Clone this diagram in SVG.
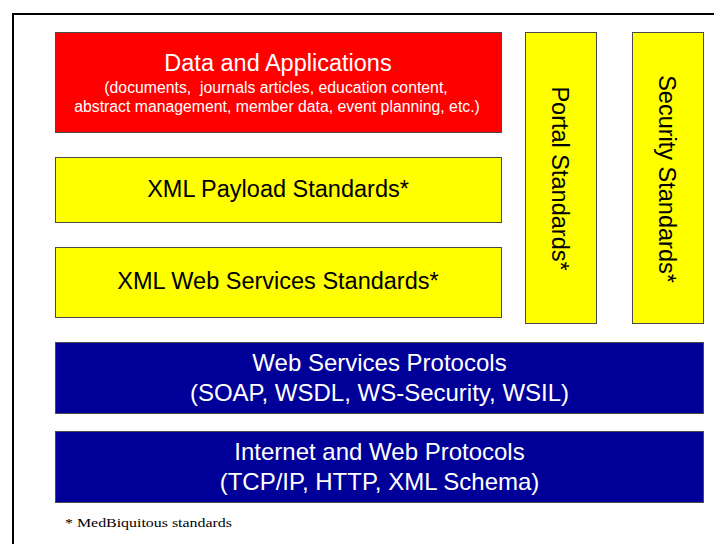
<svg xmlns="http://www.w3.org/2000/svg" width="714" height="544" viewBox="0 0 714 544">
  <style>
    .box { stroke: #4a4a4a; stroke-width: 1; }
    .red { fill: #FF0000; }
    .yellow { fill: #FFFF00; }
    .blue { fill: #000099; }
    .t { font-family: "Liberation Sans", Arial, sans-serif; text-anchor: middle; }
    .big { font-size: 23.5px; }
    .big2 { font-size: 24px; }
    .small { font-size: 15.8px; }
    .white { fill: #FFFFFF; }
    .black { fill: #000000; }
    .note { font-family: "Liberation Serif", "Times New Roman", serif; font-size: 13px; fill: #000000; }
  </style>
  <rect x="0" y="0" width="714" height="544" fill="#FFFFFF"/>
  <path d="M13,545 V14 H715" fill="none" stroke="#000000" stroke-width="2"/>

  <g id="data-applications">
    <rect class="box red" x="55.5" y="32.5" width="446" height="100"/>
    <text class="t big white" x="278" y="71">Data and Applications</text>
    <text class="t small white" x="276" y="93" xml:space="preserve">(documents,  journals articles, education content,</text>
    <text class="t small white" x="277" y="112">abstract management, member data, event planning, etc.)</text>
  </g>

  <g id="xml-payload">
    <rect class="box yellow" x="55.5" y="157.5" width="446" height="65"/>
    <text class="t big black" x="278" y="197">XML Payload Standards*</text>
  </g>

  <g id="xml-web-services">
    <rect class="box yellow" x="55.5" y="247.5" width="446" height="70"/>
    <text class="t big black" x="278" y="289">XML Web Services Standards*</text>
  </g>

  <g id="portal-standards">
    <rect class="box yellow" x="525.5" y="32.5" width="71" height="291"/>
    <text class="t big black" transform="translate(552,178.5) rotate(90)" x="0" y="0">Portal Standards*</text>
  </g>

  <g id="security-standards">
    <rect class="box yellow" x="632.5" y="32.5" width="71" height="291"/>
    <text class="t big black" transform="translate(658.5,179) rotate(90)" x="0" y="0">Security Standards*</text>
  </g>

  <g id="web-services-protocols">
    <rect class="box blue" x="55.5" y="342.5" width="648" height="71"/>
    <text class="t big2 white" x="379.5" y="371">Web Services Protocols</text>
    <text class="t big2 white" x="379.5" y="401">(SOAP, WSDL, WS-Security, WSIL)</text>
  </g>

  <g id="internet-web-protocols">
    <rect class="box blue" x="55.5" y="431.5" width="648" height="71"/>
    <text class="t big2 white" x="379.5" y="460">Internet and Web Protocols</text>
    <text class="t big2 white" x="379.5" y="490">(TCP/IP, HTTP, XML Schema)</text>
  </g>

  <g id="connectors"></g>

  <text class="note" x="65" y="527" textLength="167" lengthAdjust="spacingAndGlyphs">* MedBiquitous standards</text>
</svg>
